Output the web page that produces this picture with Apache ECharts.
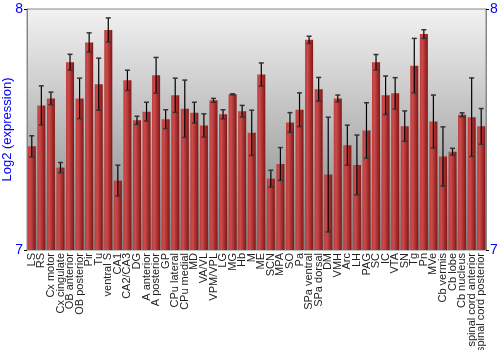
<!DOCTYPE html>
<html>
<head>
<meta charset="utf-8">
<script src="https://cdn.jsdelivr.net/npm/echarts@6/dist/echarts.min.js"></script>
<style>
  html, body { margin: 0; padding: 0; background: #fff; }
  #chart-container { width: 500px; height: 350px; }
</style>
</head>
<body>
<div id="chart-container"></div>
<script>
// regions, mean log2 expression and error (half-width)
var regions = ['LS', 'RS', 'Cx motor', 'Cx cingulate', 'OB anterior', 'OB posterior', 'Pir', 'Tu',
  'ventral S', 'CA1', 'CA2/CA3', 'DG', 'A anterior', 'A posterior', 'GP', 'CPu lateral', 'CPu medial',
  'MD', 'VA/VL', 'VPM/VPL', 'LG', 'MG', 'Hb', 'M', 'ME', 'SCN', 'MPA', 'SO', 'Pa', 'SPa ventral',
  'SPa dorsal', 'DM', 'VMH', 'Arc', 'LH', 'PAG', 'SC', 'IC', 'VTA', 'SN', 'Tg', 'Pn', 'MVe',
  'Cb vermis', 'Cb lobe', 'Cb nucleus', 'spinal cord anterior', 'spinal cord posterior'];

var means = [7.430, 7.600, 7.629, 7.342, 7.779, 7.629, 7.861, 7.688,
  7.913, 7.288, 7.704, 7.538, 7.574, 7.725, 7.543, 7.642, 7.586,
  7.570, 7.517, 7.621, 7.563, 7.646, 7.576, 7.486, 7.728, 7.296, 7.357, 7.529, 7.582, 7.872,
  7.667, 7.313, 7.629, 7.435, 7.353, 7.496, 7.779, 7.642, 7.650, 7.514, 7.765, 7.896, 7.533,
  7.388, 7.408, 7.561, 7.551, 7.513];

var errors = [0.044, 0.081, 0.026, 0.021, 0.033, 0.084, 0.040, 0.108,
  0.050, 0.064, 0.042, 0.017, 0.039, 0.074, 0.039, 0.071, 0.119,
  0.043, 0.048, 0.008, 0.019, 0.002, 0.024, 0.094, 0.048, 0.035, 0.068, 0.041, 0.070, 0.015,
  0.049, 0.238, 0.014, 0.083, 0.124, 0.115, 0.032, 0.080, 0.065, 0.063, 0.113, 0.018, 0.110,
  0.123, 0.014, 0.008, 0.163, 0.074];

var errData = means.map(function (m, i) {
  return [i, m - errors[i], m + errors[i]];
});

var myChart = echarts.init(document.getElementById('chart-container'), null, { renderer: 'canvas' });

var font = 'Liberation Sans, Arial, sans-serif';

var yCommon = {
  type: 'value',
  min: 7,
  max: 8,
  interval: 1,
  splitLine: { show: false },
  axisLine: { show: true, lineStyle: { color: '#888', width: 1 } },
  axisTick: { show: true, length: 3, lineStyle: { color: '#000' } },
  axisLabel: { color: '#0000ff', fontSize: 14, fontFamily: font, margin: 4 }
};

var option = {
  animation: false,
  grid: {
    left: 27, right: 14, top: 9, bottom: 100,
    outerBoundsMode: 'none',
    containLabel: false,
    show: true,
    borderColor: '#888',
    borderWidth: 1,
    backgroundColor: new echarts.graphic.LinearGradient(0, 0, 0, 1, [
      { offset: 0, color: '#f2f2f2' },
      { offset: 1, color: '#808080' }
    ])
  },
  xAxis: {
    type: 'category',
    data: regions,
    axisLine: { show: false },
    axisTick: { show: false },
    axisLabel: {
      interval: 0,
      rotate: 90,
      fontSize: 11,
      fontFamily: font,
      color: '#222',
      margin: 3
    }
  },
  yAxis: [
    Object.assign({}, yCommon, {
      position: 'left',
      name: 'Log2 (expression)',
      nameLocation: 'middle',
      nameGap: 13,
      nameMoveOverlap: false,
      nameTextStyle: { color: '#0000ff', fontSize: 13, fontFamily: font }
    }),
    Object.assign({}, yCommon, { position: 'right' })
  ],
  series: [
    {
      type: 'bar',
      data: means,
      barCategoryGap: '16%',
      itemStyle: {
        color: new echarts.graphic.LinearGradient(0, 0, 1, 0, [
          { offset: 0, color: '#bc3c3c' },
          { offset: 0.3, color: '#cc4a4a' },
          { offset: 1, color: '#801616' }
        ])
      }
    },
    {
      type: 'custom',
      data: errData,
      z: 10,
      renderItem: function (params, api) {
        var x = api.value(0);
        var lo = api.coord([x, api.value(1)]);
        var hi = api.coord([x, api.value(2)]);
        var cap = 2.5;
        return {
          type: 'group',
          children: [
            { type: 'line', shape: { x1: lo[0], y1: lo[1], x2: hi[0], y2: hi[1] },
              style: { stroke: '#000', lineWidth: 1.2 } },
            { type: 'line', shape: { x1: hi[0] - cap, y1: hi[1], x2: hi[0] + cap, y2: hi[1] },
              style: { stroke: '#333', lineWidth: 1.5 } },
            { type: 'line', shape: { x1: lo[0] - cap, y1: lo[1], x2: lo[0] + cap, y2: lo[1] },
              style: { stroke: '#333', lineWidth: 1.5 } }
          ]
        };
      }
    }
  ]
};

myChart.setOption(option);
</script>
</body>
</html>
